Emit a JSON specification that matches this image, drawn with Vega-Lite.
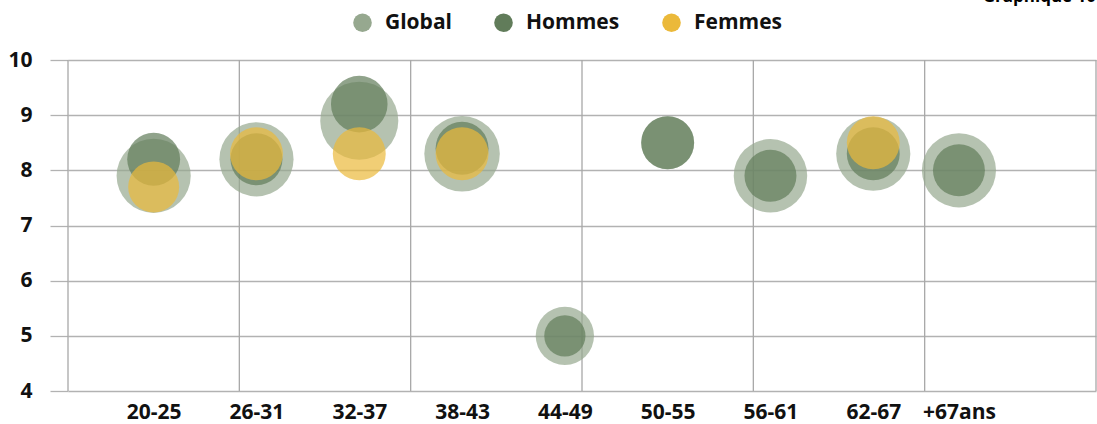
{
  "$schema": "https://vega.github.io/schema/vega-lite/v6.json",
  "width": 1028,
  "height": 331,
  "autosize": "none",
  "padding": {"left": 68, "top": 60, "right": 1, "bottom": 33},
  "background": "white",
  "config": {"font": "Open Sans", "view": {"stroke": null}},
  "title": {"text": "Graphique 10", "anchor": "end", "frame": "group", "fontSize": 17, "fontWeight": "bold", "color": "#000", "baseline": "alphabetic", "offset": 6, "dy": 13},
  "layer": [
    {
      "data": {"values": [{"g": 0}, {"g": 10}, {"g": 20}, {"g": 30}, {"g": 40}, {"g": 50}, {"g": 60}]},
      "mark": {"type": "rule", "color": "#a8a8a8", "strokeWidth": 1.3},
      "encoding": {
        "x": {"field": "g", "type": "quantitative", "scale": {"domain": [0, 60], "nice": false, "zero": false},
          "axis": {"values": [5, 11, 17, 23, 29, 35, 41, 47, 52], "labelExpr": "datum.value==5?'20-25':datum.value==11?'26-31':datum.value==17?'32-37':datum.value==23?'38-43':datum.value==29?'44-49':datum.value==35?'50-55':datum.value==41?'56-61':datum.value==47?'62-67':'+67ans'", "grid": false, "ticks": false, "domain": false, "labelPadding": 10, "labelFontSize": 21, "labelFontWeight": "bold", "labelColor": "#111", "labelFlush": false, "labelOverlap": false, "title": null}}
      }
    },
    {
      "data": {"values": [
        {"age": "20-25", "pos": 5, "serie": "Global", "note": 7.9, "effectif": 55},
        {"age": "26-31", "pos": 11, "serie": "Global", "note": 8.2, "effectif": 55},
        {"age": "32-37", "pos": 17, "serie": "Global", "note": 8.9, "effectif": 61},
        {"age": "38-43", "pos": 23, "serie": "Global", "note": 8.3, "effectif": 57},
        {"age": "44-49", "pos": 29, "serie": "Global", "note": 5.0, "effectif": 34},
        {"age": "50-55", "pos": 35, "serie": "Global", "note": 8.5, "effectif": 28},
        {"age": "56-61", "pos": 41, "serie": "Global", "note": 7.9, "effectif": 54},
        {"age": "62-67", "pos": 47, "serie": "Global", "note": 8.3, "effectif": 55},
        {"age": "+67ans", "pos": 52, "serie": "Global", "note": 8.0, "effectif": 55},
        {"age": "20-25", "pos": 5, "serie": "Hommes", "note": 8.2, "effectif": 28},
        {"age": "26-31", "pos": 11, "serie": "Hommes", "note": 8.2, "effectif": 27},
        {"age": "32-37", "pos": 17, "serie": "Hommes", "note": 9.2, "effectif": 32},
        {"age": "38-43", "pos": 23, "serie": "Hommes", "note": 8.4, "effectif": 28},
        {"age": "44-49", "pos": 29, "serie": "Hommes", "note": 5.0, "effectif": 17},
        {"age": "50-55", "pos": 35, "serie": "Hommes", "note": 8.5, "effectif": 28},
        {"age": "56-61", "pos": 41, "serie": "Hommes", "note": 7.9, "effectif": 27},
        {"age": "62-67", "pos": 47, "serie": "Hommes", "note": 8.3, "effectif": 28},
        {"age": "+67ans", "pos": 52, "serie": "Hommes", "note": 8.0, "effectif": 27},
        {"age": "20-25", "pos": 5, "serie": "Femmes", "note": 7.7, "effectif": 26},
        {"age": "26-31", "pos": 11, "serie": "Femmes", "note": 8.3, "effectif": 28},
        {"age": "32-37", "pos": 17, "serie": "Femmes", "note": 8.3, "effectif": 28},
        {"age": "38-43", "pos": 23, "serie": "Femmes", "note": 8.3, "effectif": 28},
        {"age": "62-67", "pos": 47, "serie": "Femmes", "note": 8.5, "effectif": 28}
      ]},
      "mark": {"type": "circle", "opacity": 0.7},
      "encoding": {
        "x": {"field": "pos", "type": "quantitative", "scale": {"domain": [0, 60], "nice": false, "zero": false},
          "axis": {"values": [5, 11, 17, 23, 29, 35, 41, 47, 52], "labelExpr": "datum.value==5?'20-25':datum.value==11?'26-31':datum.value==17?'32-37':datum.value==23?'38-43':datum.value==29?'44-49':datum.value==35?'50-55':datum.value==41?'56-61':datum.value==47?'62-67':'+67ans'", "grid": false, "ticks": false, "domain": false, "labelPadding": 10, "labelFontSize": 21, "labelFontWeight": "bold", "labelColor": "#111", "labelFlush": false, "labelOverlap": false, "title": null}},
        "y": {"field": "note", "type": "quantitative", "scale": {"domain": [4, 10], "nice": false, "zero": false},
          "axis": {"values": [4, 5, 6, 7, 8, 9, 10], "grid": true, "gridColor": "#b2b2b2", "gridWidth": 1.3, "tickSize": 18, "tickColor": "#b2b2b2", "tickWidth": 1.3, "domain": false, "labelPadding": 18, "labelFontSize": 21, "labelFontWeight": "bold", "labelColor": "#111", "title": null}},
        "size": {"field": "effectif", "type": "quantitative", "scale": {"type": "linear", "domain": [0, 100], "range": [0, 10000]}, "legend": null},
        "color": {"field": "serie", "type": "nominal", "scale": {"domain": ["Global", "Hommes", "Femmes"], "range": ["#96a88f", "#617c5a", "#ebb93a"]},
          "legend": {"orient": "none", "legendX": 284, "legendY": -48, "direction": "horizontal", "title": null, "symbolType": "circle", "symbolSize": 346, "symbolOpacity": 1, "symbolStrokeWidth": 0, "labelFontSize": 21, "labelFontWeight": "bold", "labelColor": "#111", "labelOffset": 12, "columnPadding": 41, "padding": 0}}
      }
    }
  ]
}
